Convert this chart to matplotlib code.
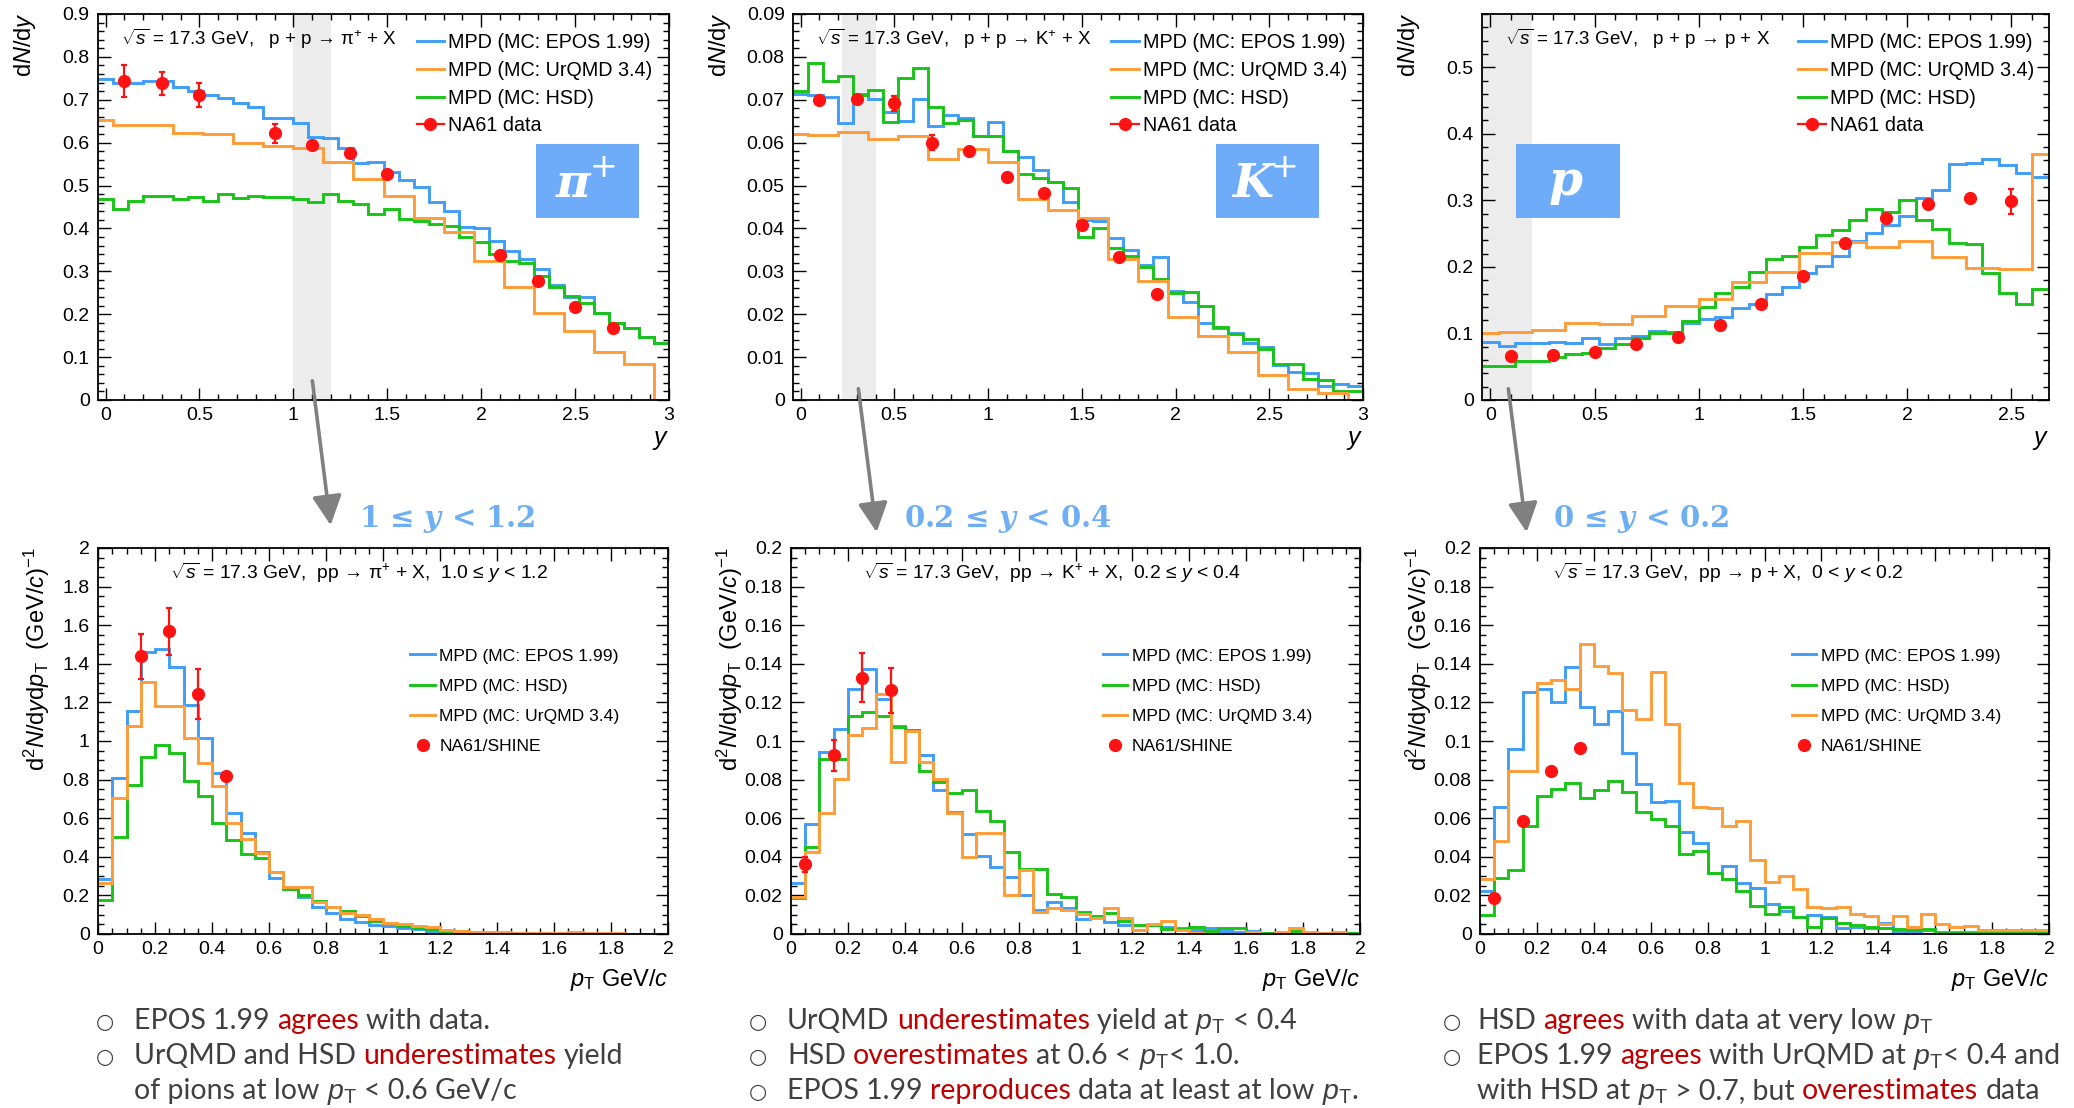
import numpy as np
import matplotlib
matplotlib.use('Agg')
import matplotlib.pyplot as plt
from matplotlib.ticker import MultipleLocator, FuncFormatter
from matplotlib.lines import Line2D
from matplotlib.patches import Rectangle, FancyArrowPatch
from matplotlib import font_manager

# ---------------------------------------------------------------- data
# top row: dN/dy histograms, 0.08-wide rapidity bins starting at -0.04
y_edges_full = np.round(-0.04 + 0.08 * np.arange(39), 4)   # -0.04 .. 3.00
y_edges_p = np.round(-0.04 + 0.08 * np.arange(35), 4)      # -0.04 .. 2.68

epos_pi = [0.749, 0.738, 0.738, 0.744, 0.744, 0.730, 0.720, 0.710, 0.705, 0.692,
           0.684, 0.657, 0.657, 0.645, 0.614, 0.612, 0.588, 0.552, 0.556, 0.531,
           0.513, 0.496, 0.461, 0.441, 0.404, 0.402, 0.371, 0.347, 0.328, 0.305,
           0.268, 0.241, 0.239, 0.202, 0.180, 0.167, 0.146, 0.132]
urqmd_pi = [0.654, 0.641, 0.641, 0.641, 0.641, 0.623, 0.623, 0.620, 0.620, 0.600,
            0.600, 0.593, 0.593, 0.588, 0.588, 0.554, 0.554, 0.515, 0.515, 0.476,
            0.476, 0.424, 0.424, 0.391, 0.391, 0.323, 0.323, 0.263, 0.263, 0.202,
            0.202, 0.161, 0.161, 0.113, 0.113, 0.084, 0.084, 0.0]
hsd_pi = [0.469, 0.445, 0.464, 0.476, 0.476, 0.469, 0.474, 0.465, 0.480, 0.470,
          0.476, 0.474, 0.473, 0.468, 0.462, 0.480, 0.465, 0.457, 0.433, 0.445,
          0.421, 0.417, 0.410, 0.406, 0.379, 0.369, 0.340, 0.324, 0.320, 0.289,
          0.264, 0.242, 0.227, 0.204, 0.179, 0.167, 0.146, 0.132]
na61_pi_y = [0.1, 0.3, 0.5, 0.9, 1.1, 1.3, 1.5, 2.1, 2.3, 2.5, 2.7]
na61_pi = [0.744, 0.738, 0.710, 0.622, 0.595, 0.575, 0.528, 0.338, 0.278, 0.216, 0.169]
na61_pi_err = [0.037, 0.027, 0.028, 0.022, 0.005, 0.005, 0.005, 0.005, 0.005, 0.005, 0.005]

epos_k = [0.0713, 0.0710, 0.0706, 0.0647, 0.0713, 0.0701, 0.0672, 0.0651, 0.0701, 0.0639,
          0.0664, 0.0658, 0.0616, 0.0649, 0.0581, 0.0566, 0.0536, 0.0509, 0.0462, 0.0420,
          0.0418, 0.0377, 0.0350, 0.0315, 0.0334, 0.0253, 0.0229, 0.0179, 0.0167, 0.0157,
          0.0134, 0.0124, 0.0082, 0.0066, 0.0062, 0.0033, 0.0037, 0.0033]
urqmd_k = [0.0620, 0.0617, 0.0617, 0.0624, 0.0624, 0.0608, 0.0608, 0.0616, 0.0616, 0.0561,
           0.0561, 0.0586, 0.0586, 0.0554, 0.0554, 0.0468, 0.0468, 0.0443, 0.0443, 0.0425,
           0.0425, 0.0329, 0.0329, 0.0277, 0.0277, 0.0193, 0.0193, 0.0150, 0.0150, 0.0111,
           0.0111, 0.0058, 0.0058, 0.0025, 0.0025, 0.0017, 0.0017, 0.0]
hsd_k = [0.0721, 0.0785, 0.0744, 0.0755, 0.0711, 0.0722, 0.0649, 0.0750, 0.0773, 0.0682,
         0.0645, 0.0653, 0.0615, 0.0615, 0.0581, 0.0527, 0.0517, 0.0509, 0.0495, 0.0379,
         0.0400, 0.0354, 0.0336, 0.0311, 0.0282, 0.0250, 0.0251, 0.0219, 0.0171, 0.0155,
         0.0142, 0.0120, 0.0084, 0.0085, 0.0050, 0.0047, 0.0022, 0.0022]
na61_k_y = [0.1, 0.3, 0.5, 0.7, 0.9, 1.1, 1.3, 1.5, 1.7, 1.9]
na61_k = [0.0699, 0.0701, 0.0692, 0.0600, 0.0581, 0.0521, 0.0482, 0.0408, 0.0333, 0.0247]
na61_k_err = [0.0005, 0.0005, 0.0017, 0.0017, 0.0005, 0.0005, 0.0005, 0.0005, 0.0005, 0.0005]

epos_p = [0.0865, 0.0815, 0.0860, 0.0860, 0.0875, 0.0850, 0.0925, 0.0835, 0.0935, 0.0965,
          0.1040, 0.1015, 0.1150, 0.1215, 0.1240, 0.1375, 0.1450, 0.1600, 0.1700, 0.1910,
          0.2015, 0.2160, 0.2390, 0.2515, 0.2625, 0.2760, 0.3030, 0.3150, 0.3540, 0.3565,
          0.3615, 0.3535, 0.3415, 0.3350]
urqmd_p = [0.1010, 0.1025, 0.1025, 0.1050, 0.1050, 0.1150, 0.1150, 0.1135, 0.1135, 0.1265,
           0.1265, 0.1415, 0.1415, 0.1525, 0.1525, 0.1775, 0.1775, 0.1925, 0.1925, 0.2210,
           0.2210, 0.2375, 0.2375, 0.2300, 0.2300, 0.2390, 0.2390, 0.2150, 0.2150, 0.1985,
           0.1985, 0.1975, 0.1975, 0.3700]
hsd_p = [0.0515, 0.0515, 0.0590, 0.0590, 0.0640, 0.0690, 0.0700, 0.0775, 0.0840, 0.0925,
         0.1010, 0.1010, 0.1190, 0.1400, 0.1615, 0.1700, 0.1925, 0.2115, 0.2165, 0.2300,
         0.2485, 0.2550, 0.2700, 0.2865, 0.2825, 0.3000, 0.2700, 0.2575, 0.2360, 0.2350,
         0.1915, 0.1610, 0.1435, 0.1675]
na61_p_y = [0.1, 0.3, 0.5, 0.7, 0.9, 1.1, 1.3, 1.5, 1.7, 1.9, 2.1, 2.3, 2.5]
na61_p = [0.0665, 0.068, 0.072, 0.084, 0.095, 0.1125, 0.144, 0.1865, 0.2365, 0.274,
          0.294, 0.3035, 0.2985]
na61_p_err = [0.002, 0.002, 0.002, 0.002, 0.002, 0.002, 0.002, 0.002, 0.002, 0.002,
              0.002, 0.002, 0.019]

# bottom row: pT spectra, 0.05 GeV/c bins 0..2
pt_edges = np.linspace(0.0, 2.0, 41)

epos_pipt = [0.283, 0.810, 1.156, 1.460, 1.476, 1.383, 1.188, 1.015, 0.833, 0.626,
             0.525, 0.427, 0.289, 0.232, 0.194, 0.138, 0.107, 0.078, 0.064, 0.047,
             0.043, 0.029, 0.024, 0.017, 0.012, 0.010, 0.008, 0.006, 0.005, 0.004,
             0.003, 0.003, 0.002, 0.002, 0.002, 0.001, 0.001, 0.001, 0.001, 0.001]
hsd_pipt = [0.176, 0.501, 0.773, 0.916, 0.980, 0.937, 0.793, 0.717, 0.574, 0.487,
            0.415, 0.392, 0.323, 0.232, 0.202, 0.173, 0.138, 0.121, 0.093, 0.067,
            0.055, 0.041, 0.029, 0.024, 0.017, 0.014, 0.012, 0.009, 0.007, 0.006,
            0.005, 0.004, 0.003, 0.003, 0.002, 0.002, 0.001, 0.001, 0.001, 0.001]
urqmd_pipt = [0.266, 0.703, 1.080, 1.305, 1.182, 1.179, 1.018, 0.888, 0.767, 0.574,
              0.493, 0.422, 0.320, 0.242, 0.242, 0.168, 0.138, 0.111, 0.099, 0.076,
              0.055, 0.052, 0.043, 0.035, 0.021, 0.017, 0.012, 0.010, 0.008, 0.007,
              0.006, 0.005, 0.004, 0.009, 0.004, 0.003, 0.003, 0.002, 0.002, 0.002]
na61_pipt_x = [0.15, 0.25, 0.35, 0.45]
na61_pipt = [1.438, 1.568, 1.245, 0.821]
na61_pipt_err = [0.117, 0.120, 0.130, 0.0]

epos_kpt = [0.0266, 0.0570, 0.0942, 0.1063, 0.1269, 0.1373, 0.1217, 0.1080, 0.1058, 0.0928,
            0.0747, 0.0634, 0.0519, 0.0406, 0.0346, 0.0297, 0.0202, 0.0124, 0.0168, 0.0133,
            0.0076, 0.0090, 0.0064, 0.0047, 0.0021, 0.0047, 0.0035, 0.0030, 0.0021, 0.0030,
            0.0017, 0.0012, 0.0017, 0.0007, 0.0003, 0.0012, 0.0007, 0.0003, 0.0007, 0.0003]
hsd_kpt = [0.0185, 0.0453, 0.0906, 0.0906, 0.1132, 0.1148, 0.1132, 0.1075, 0.1058, 0.0842,
           0.0787, 0.0733, 0.0747, 0.0638, 0.0583, 0.0427, 0.0337, 0.0337, 0.0206, 0.0194,
           0.0116, 0.0095, 0.0107, 0.0067, 0.0047, 0.0047, 0.0024, 0.0024, 0.0035, 0.0017,
           0.0030, 0.0030, 0.0007, 0.0007, 0.0003, 0.0017, 0.0007, 0.0007, 0.0003, 0.0003]
urqmd_kpt = [0.0194, 0.0424, 0.0626, 0.0802, 0.1032, 0.1067, 0.1243, 0.0890, 0.1053, 0.0890,
             0.0802, 0.0626, 0.0401, 0.0522, 0.0522, 0.0202, 0.0332, 0.0112, 0.0133, 0.0124,
             0.0102, 0.0081, 0.0133, 0.0081, 0.0021, 0.0050, 0.0069, 0.0021, 0.0007, 0.0,
             0.0, 0.0, 0.0012, 0.0, 0.0012, 0.0033, 0.0012, 0.0007, 0.0012, 0.0]
na61_kpt_x = [0.05, 0.15, 0.25, 0.35]
na61_kpt = [0.0361, 0.0925, 0.1329, 0.1262]
na61_kpt_err = [0.0039, 0.0080, 0.0127, 0.0115]

epos_ppt = [0.0223, 0.0660, 0.0959, 0.1253, 0.1269, 0.1201, 0.1381, 0.1175, 0.1089, 0.1153,
            0.0940, 0.0778, 0.0686, 0.0691, 0.0531, 0.0470, 0.0315, 0.0353, 0.0266, 0.0237,
            0.0156, 0.0121, 0.0090, 0.0099, 0.0086, 0.0029, 0.0035, 0.0029, 0.0055, 0.0017,
            0.0017, 0.0021, 0.0009, 0.0012, 0.0010, 0.0012, 0.0009, 0.0007, 0.0009, 0.0007]
hsd_ppt = [0.0099, 0.0292, 0.0332, 0.0560, 0.0717, 0.0752, 0.0781, 0.0703, 0.0747, 0.0793,
           0.0735, 0.0631, 0.0596, 0.0562, 0.0415, 0.0432, 0.0315, 0.0285, 0.0225, 0.0147,
           0.0104, 0.0142, 0.0090, 0.0038, 0.0081, 0.0055, 0.0047, 0.0035, 0.0029, 0.0024,
           0.0021, 0.0026, 0.0003, 0.0007, 0.0003, 0.0003, 0.0007, 0.0009, 0.0009, 0.0009]
urqmd_ppt = [0.0283, 0.0482, 0.0842, 0.0842, 0.1303, 0.1314, 0.1270, 0.1504, 0.1391, 0.1352,
             0.1162, 0.1113, 0.1355, 0.1089, 0.0781, 0.0660, 0.0652, 0.0562, 0.0583, 0.0384,
             0.0271, 0.0303, 0.0233, 0.0142, 0.0133, 0.0142, 0.0102, 0.0093, 0.0052, 0.0093,
             0.0035, 0.0102, 0.0052, 0.0035, 0.0043, 0.0021, 0.0021, 0.0021, 0.0021, 0.0021]
na61_ppt_x = [0.05, 0.15, 0.25, 0.35]
na61_ppt = [0.0185, 0.0588, 0.0842, 0.0963]

labels_top = ['MPD (MC: EPOS 1.99)', 'MPD (MC: UrQMD 3.4)', 'MPD (MC: HSD)', 'NA61 data']
labels_bot = ['MPD (MC: EPOS 1.99)', 'MPD (MC: HSD)', 'MPD (MC: UrQMD 3.4)', 'NA61/SHINE']

# ---------------------------------------------------------------- style
names = {f.name for f in font_manager.fontManager.ttflist}
SANS = 'Liberation Sans'
NOTE = 'Lato' if 'Lato' in names else 'DejaVu Sans'

plt.rcParams['font.family'] = [SANS, 'DejaVu Sans']
plt.rcParams['mathtext.fontset'] = 'custom'
plt.rcParams['mathtext.rm'] = SANS
plt.rcParams['mathtext.it'] = SANS + ':italic'
plt.rcParams['mathtext.bf'] = SANS + ':bold'
plt.rcParams['mathtext.cal'] = 'DejaVu Serif:italic:bold'

C_EPOS = '#3f9df7'
C_URQMD = '#ff9c38'
C_HSD = '#18c418'
C_DATA = '#ff1212'
C_BAND = '#ececec'
C_BOX = '#66a8fa'
C_RANGE = '#6eaef2'
C_TEXT = '#404040'
C_RED = '#c00000'
LW = 2.1

W, H = 2074, 1108
fig = plt.figure(figsize=(W / 100, H / 100), dpi=100)
fig.patch.set_facecolor('white')


def add_ax(l, r, t, b):
    return fig.add_axes([l / W, 1 - b / H, (r - l) / W, (b - t) / H])


fmt = FuncFormatter(lambda v, p: '0' if abs(v) < 1e-9 else ('%.6f' % v).rstrip('0').rstrip('.'))


def style(ax, xmaj, xmin, ymaj, ymin):
    ax.xaxis.set_major_locator(MultipleLocator(xmaj))
    ax.xaxis.set_minor_locator(MultipleLocator(xmin))
    ax.yaxis.set_major_locator(MultipleLocator(ymaj))
    ax.yaxis.set_minor_locator(MultipleLocator(ymin))
    ax.xaxis.set_major_formatter(fmt)
    ax.yaxis.set_major_formatter(fmt)
    ax.tick_params(which='both', direction='in', top=True, right=True, width=1.0,
                   colors='black', labelsize=14)
    ax.tick_params(which='major', length=9)
    ax.tick_params(which='minor', length=4.5)
    ax.tick_params(axis='x', pad=5)
    ax.tick_params(axis='y', pad=6)
    for s in ax.spines.values():
        s.set_linewidth(1.3)


top_ann = [r'$\sqrt{s}$ = 17.3 GeV,   p + p → π$^{+}$ + X',
           r'$\sqrt{s}$ = 17.3 GeV,   p + p → K$^{+}$ + X',
           r'$\sqrt{s}$ = 17.3 GeV,   p + p → p + X']
bot_ann = [r'$\sqrt{s}$ = 17.3 GeV,  pp → π$^{+}$ + X,  1.0 ≤ $y$ < 1.2',
           r'$\sqrt{s}$ = 17.3 GeV,  pp → K$^{+}$ + X,  0.2 ≤ $y$ < 0.4',
           r'$\sqrt{s}$ = 17.3 GeV,  pp → p + X,  0 < $y$ < 0.2']

top_cfg = [
    dict(l=98, r=669, edges=y_edges_full, xlim=(-0.04, 3.0), ylim=(0, 0.9), ymaj=0.1, ymin=0.02,
         band=(1.0, 1.2), box=(2.29, 0.425, 2.84, 0.597), sym='π', plus=True,
         vals=(epos_pi, urqmd_pi, hsd_pi), data=(na61_pi_y, na61_pi, na61_pi_err)),
    dict(l=793, r=1363, edges=y_edges_full, xlim=(-0.04, 3.0), ylim=(0, 0.09), ymaj=0.01, ymin=0.002,
         band=(0.22, 0.40), box=(2.216, 0.0425, 2.766, 0.0597), sym='K', plus=True,
         vals=(epos_k, urqmd_k, hsd_k), data=(na61_k_y, na61_k, na61_k_err)),
    dict(l=1482, r=2049, edges=y_edges_p, xlim=(-0.04, 2.68), ylim=(0, 0.58), ymaj=0.1, ymin=0.02,
         band=(-0.04, 0.2), box=(0.125, 0.2735, 0.62, 0.384), sym='p', plus=False,
         vals=(epos_p, urqmd_p, hsd_p), data=(na61_p_y, na61_p, na61_p_err)),
]
TOP_T, TOP_B = 14, 400

for i, c in enumerate(top_cfg):
    ax = add_ax(c['l'], c['r'], TOP_T, TOP_B)
    ax.set_xlim(*c['xlim'])
    ax.set_ylim(*c['ylim'])
    ax.axvspan(c['band'][0], c['band'][1], color=C_BAND, lw=0, zorder=0)
    e, u, h = c['vals']
    ax.stairs(e, c['edges'], color=C_EPOS, lw=LW, baseline=None, zorder=2)
    ax.stairs(h, c['edges'], color=C_HSD, lw=LW, baseline=None, zorder=2.1)
    ax.stairs(u, c['edges'], color=C_URQMD, lw=LW, baseline=None, zorder=2.2)
    dx, dy, de = c['data']
    ax.errorbar(dx, dy, yerr=de, fmt='o', color=C_DATA, ms=8.5, elinewidth=1.6,
                capsize=2, capthick=1.6, zorder=5)
    x0, y0, x1, y1 = c['box']
    ax.add_patch(Rectangle((x0, y0), x1 - x0, y1 - y0, facecolor=C_BOX, edgecolor='none',
                           alpha=0.95, zorder=3))
    if c['plus']:
        ax.text(x0 + 0.36 * (x1 - x0), y1 - 0.54 * (y1 - y0), c['sym'], color='white',
                family='DejaVu Serif', style='italic', weight='bold', fontsize=34,
                ha='center', va='center', zorder=4)
        ax.text(x0 + 0.66 * (x1 - x0), y1 - 0.32 * (y1 - y0), '+', color='white',
                family='DejaVu Sans', fontsize=24, ha='center', va='center', zorder=4)
    else:
        ax.text(x0 + 0.48 * (x1 - x0), y1 - 0.50 * (y1 - y0), c['sym'], color='white',
                family='DejaVu Serif', style='italic', weight='bold', fontsize=35,
                ha='center', va='center', zorder=4)
    style(ax, 0.5, 0.1, c['ymaj'], c['ymin'])
    ax.text(0.04, 0.935, top_ann[i], transform=ax.transAxes, fontsize=13.5,
            ha='left', va='center', zorder=6)
    handles = [Line2D([], [], color=C_EPOS, lw=LW), Line2D([], [], color=C_URQMD, lw=LW),
               Line2D([], [], color=C_HSD, lw=LW),
               Line2D([], [], color=C_DATA, lw=1.6, marker='o', ms=8.5)]
    ax.legend(handles, labels_top, loc='upper left', bbox_to_anchor=(0.558, 0.950),
              frameon=False, fontsize=14.2, handlelength=1.4, handletextpad=0.2,
              labelspacing=0.44, borderpad=0, borderaxespad=0)
    fig.text((c['l'] - 73) / W, 1 - 12 / H, r'd$N$/d$y$', rotation=90, ha='center',
             va='top', fontsize=17)
    fig.text(c['r'] / W, 1 - 440 / H, r'$y$', ha='right', va='center', fontsize=18)

bot_cfg = [
    dict(l=98, r=668, ylim=(0, 2.0), ymaj=0.2, ymin=0.05,
         vals=(epos_pipt, hsd_pipt, urqmd_pipt), data=(na61_pipt_x, na61_pipt, na61_pipt_err)),
    dict(l=791, r=1360, ylim=(0, 0.2), ymaj=0.02, ymin=0.005,
         vals=(epos_kpt, hsd_kpt, urqmd_kpt), data=(na61_kpt_x, na61_kpt, na61_kpt_err)),
    dict(l=1480, r=2049, ylim=(0, 0.2), ymaj=0.02, ymin=0.005,
         vals=(epos_ppt, hsd_ppt, urqmd_ppt), data=(na61_ppt_x, na61_ppt, None)),
]
BOT_T, BOT_B = 548, 934

for i, c in enumerate(bot_cfg):
    ax = add_ax(c['l'], c['r'], BOT_T, BOT_B)
    ax.set_xlim(0, 2.0)
    ax.set_ylim(*c['ylim'])
    e, h, u = c['vals']
    ax.stairs(e, pt_edges, color=C_EPOS, lw=LW, baseline=None, zorder=2)
    ax.stairs(h, pt_edges, color=C_HSD, lw=LW, baseline=None, zorder=2.1)
    ax.stairs(u, pt_edges, color=C_URQMD, lw=LW, baseline=None, zorder=2.2)
    dx, dy, de = c['data']
    ax.errorbar(dx, dy, yerr=de, fmt='o', color=C_DATA, ms=8.5, elinewidth=1.6,
                capsize=2, capthick=1.6, zorder=5)
    style(ax, 0.2, 0.05, c['ymaj'], c['ymin'])
    ax.text(0.127, 0.935, bot_ann[i], transform=ax.transAxes, fontsize=13.9,
            ha='left', va='center', zorder=6)
    handles = [Line2D([], [], color=C_EPOS, lw=LW), Line2D([], [], color=C_HSD, lw=LW),
               Line2D([], [], color=C_URQMD, lw=LW),
               Line2D([], [], color=C_DATA, ls='none', marker='o', ms=8.5)]
    ax.legend(handles, labels_bot, loc='upper left', bbox_to_anchor=(0.548, 0.740),
              frameon=False, fontsize=12.6, handlelength=1.4, handletextpad=0.25,
              labelspacing=0.85, borderpad=0, borderaxespad=0)
    fig.text((c['l'] - 61) / W, 1 - 547 / H,
             r'd$^{2}$$N$/d$y$d$p_{\rm T}$  (GeV/$c$)$^{-1}$', rotation=90,
             ha='center', va='top', fontsize=17)
    fig.text(c['r'] / W, 1 - 980 / H, r'$p_{\rm T}$ GeV/$c$', ha='right', va='center',
             fontsize=17)

# rapidity-window labels and arrows
range_txt = [(447, r'1 ≤ $\mathcal{y}$ < 1.2'), (1008, r'0.2 ≤ $\mathcal{y}$ < 0.4'),
             (1641, r'0 ≤ $\mathcal{y}$ < 0.2')]
for xc, s in range_txt:
    fig.text(xc / W, 1 - 519 / H, s, color=C_RANGE, family='DejaVu Serif', weight='bold',
             fontsize=21, ha='center', va='center')

arrows = [((312, 378), (331, 528)), ((858, 386), (877, 535)), ((1508, 386), (1527, 535))]
for (x0, y0), (x1, y1) in arrows:
    fig.add_artist(FancyArrowPatch((x0 / W, 1 - y0 / H), (x1 / W, 1 - y1 / H),
                                   transform=fig.transFigure,
                                   arrowstyle='-|>,head_length=0.9,head_width=0.45',
                                   mutation_scale=20, color='#808080', lw=2.6))

# ---------------------------------------------------------------- notes
renderer = fig.canvas.get_renderer()
NOTE_SIZE = 20.5


def width_of(s, **kw):
    t = fig.text(0, 0, s, **kw)
    w = t.get_window_extent(renderer).width
    t.remove()
    return w


def rich(x, y, segs):
    kw = dict(fontsize=NOTE_SIZE, family=[NOTE, 'DejaVu Sans'])
    sp = width_of('a a', **kw) - width_of('aa', **kw)
    for s, col in segs:
        lead = len(s) - len(s.lstrip(' '))
        trail = len(s) - len(s.rstrip(' '))
        core = s.strip(' ')
        x += lead * sp
        if core:
            t = fig.text(x / W, 1 - y / H, core, color=col, va='baseline', ha='left', **kw)
            x += t.get_window_extent(renderer).width
        x += trail * sp


PT = r'$p_{\rm T}$'
G, R = C_TEXT, C_RED
notes = [
    (105, 134, 1029, True, [('EPOS 1.99 ', G), ('agrees', R), (' with data.', G)]),
    (105, 134, 1064, True, [('UrQMD and HSD ', G), ('underestimates', R), (' yield', G)]),
    (105, 134, 1099, False, [('of pions at low ', G), (PT, G), (' < 0.6 GeV/c', G)]),
    (758, 787, 1029, True, [('UrQMD ', G), ('underestimates', R), (' yield at ', G), (PT, G),
                            (' < 0.4', G)]),
    (758, 787, 1064, True, [('HSD ', G), ('overestimates', R), (' at 0.6 < ', G), (PT, G),
                            ('< 1.0.', G)]),
    (758, 787, 1099, True, [('EPOS 1.99 ', G), ('reproduces', R), (' data at least at low ', G),
                            (PT, G), ('.', G)]),
    (1452, 1477, 1029, True, [('HSD ', G), ('agrees', R), (' with data at very low ', G),
                              (PT, G)]),
    (1452, 1477, 1064, True, [('EPOS 1.99 ', G), ('agrees', R), (' with UrQMD at ', G), (PT, G),
                              ('< 0.4 and', G)]),
    (1452, 1477, 1099, False, [('with HSD at ', G), (PT, G), (' > 0.7, but ', G),
                               ('overestimates', R), (' data', G)]),
]
for bx, tx, by, bullet, segs in notes:
    if bullet:
        fig.text(bx / W, 1 - (by - 1) / H, '○', family='DejaVu Sans', fontsize=15,
                 color=G, ha='center', va='baseline')
    rich(tx, by, segs)

fig.savefig('out.png', dpi=100, facecolor='white')
